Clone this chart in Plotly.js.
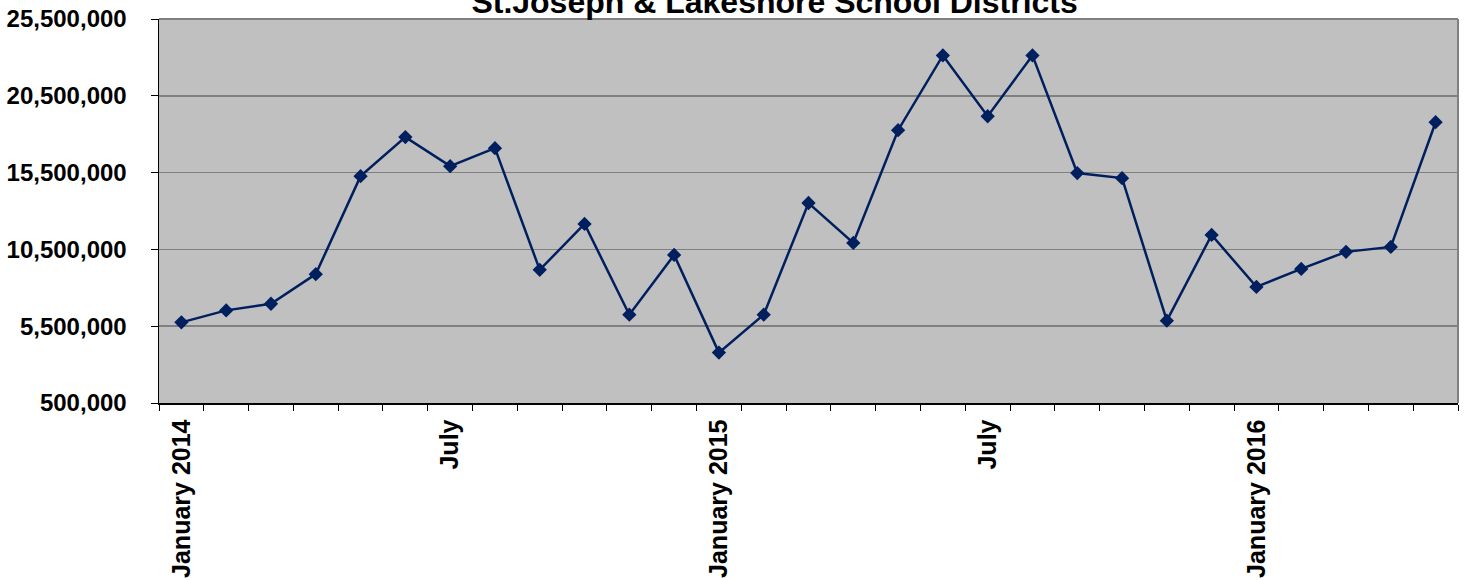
<!DOCTYPE html>
<html>
<head>
<meta charset="utf-8">
<script src="https://cdn.plot.ly/plotly-3.0.1.min.js"></script>
<style>html,body{margin:0;padding:0;background:#fff;}#chart{width:1467px;height:580px;}</style>
</head>
<body>
<div id="chart"></div>
<script>
const months = ["2014-01","2014-02","2014-03","2014-04","2014-05","2014-06","2014-07","2014-08","2014-09","2014-10","2014-11","2014-12",
  "2015-01","2015-02","2015-03","2015-04","2015-05","2015-06","2015-07","2015-08","2015-09","2015-10","2015-11","2015-12",
  "2016-01","2016-02","2016-03","2016-04","2016-05"];
const values = [5750000, 6530000, 6960000, 8890000, 15270000, 17810000, 15920000, 17090000, 9170000, 12160000, 6250000, 10140000,
  3780000, 6250000, 13520000, 10920000, 18260000, 23130000, 19170000, 23130000, 15470000, 15140000, 5860000, 11440000,
  8060000, 9230000, 10340000, 10660000, 18780000];
const labelMonths = ["2014-01","2014-07","2015-01","2015-07","2016-01"];
const labelText = ["January 2014","July","January 2015","July","January 2016"];
const titleText = "St.Joseph &amp; Lakeshore School Districts";

const tickText = months.map(m => { const i = labelMonths.indexOf(m); return i >= 0 ? labelText[i] : ""; });
const font = "Arial, 'Liberation Sans', sans-serif";

const trace = {
  x: months, y: values, type: "scatter", mode: "lines+markers",
  line: {color: "#001f5f", width: 2.5},
  marker: {symbol: "diamond", size: 11, color: "#001f5f"},
  hoverinfo: "x+y"
};

const layout = {
  width: 1467, height: 580,
  margin: {l: 159, r: 9, t: 18.5, b: 176.5},
  paper_bgcolor: "#ffffff", plot_bgcolor: "#c0c0c0",
  showlegend: false,
  title: {text: "<b>" + titleText + "</b>", font: {family: font, size: 32, color: "#000"},
    x: 0.528, xref: "container", xanchor: "center", y: 0.9974, yref: "container", yanchor: "middle"},
  xaxis: {type: "category", categoryorder: "array", categoryarray: months,
    tickvals: months, ticktext: tickText, tickson: "boundaries",
    range: [-0.5, months.length - 0.5],
    ticks: "outside", ticklen: 6, tickwidth: 1, tickcolor: "#000",
    ticklabelstandoff: 5,
    tickangle: -90, tickfont: {family: font, size: 25, color: "#000", weight: "bold"},
    showgrid: false, showline: true, linecolor: "#000", linewidth: 1.5, zeroline: false},
  yaxis: {range: [500000, 25500000], tickvals: [500000, 5500000, 10500000, 15500000, 20500000, 25500000],
    tickformat: ",d", ticks: "outside", ticklen: 7, tickwidth: 1, tickcolor: "#000",
    ticklabelstandoff: 19,
    tickfont: {family: font, size: 24, color: "#000", weight: "bold"},
    showgrid: true, gridcolor: "#808080", gridwidth: 1.5,
    showline: true, linecolor: "#000", linewidth: 1.5, zeroline: false},
  shapes: [
    {type: "line", xref: "paper", yref: "paper", x0: 1, x1: 1, y0: 0, y1: 1, line: {color: "#808080", width: 2}},
    {type: "line", xref: "paper", yref: "paper", x0: 0, x1: 1, y0: 1, y1: 1, line: {color: "#808080", width: 2}}
  ]
};

Plotly.newPlot("chart", [trace], layout, {displayModeBar: false, staticPlot: true});
</script>
</body>
</html>
